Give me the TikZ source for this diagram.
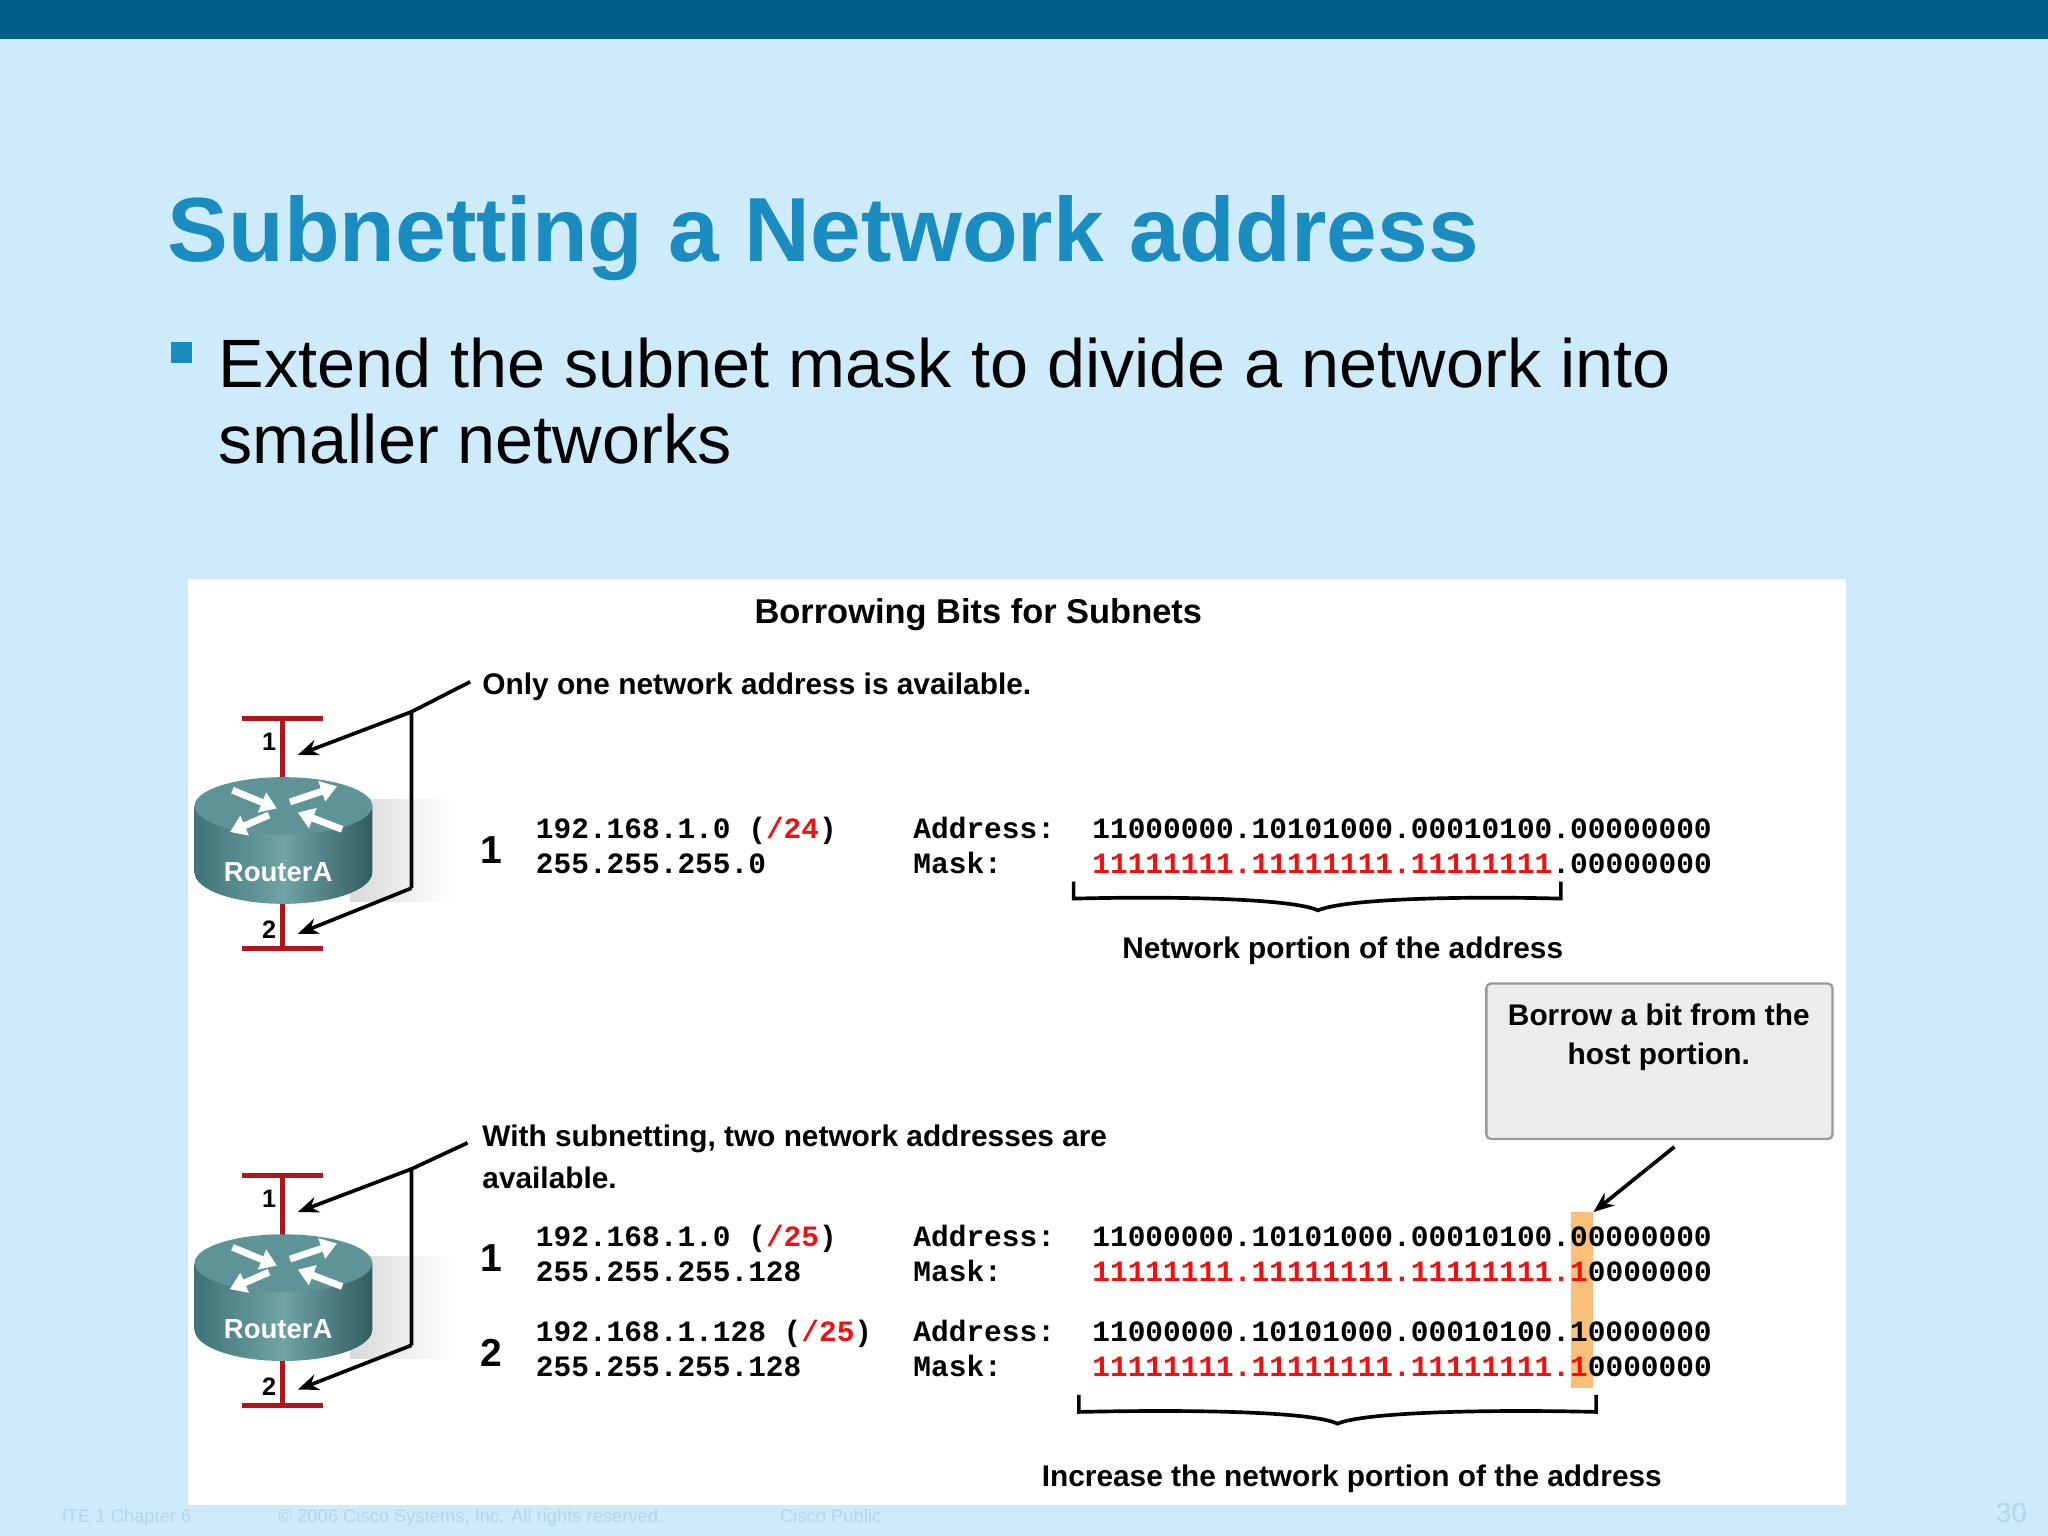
\documentclass[tikz,border=0pt]{standalone}
\usepackage{fontspec}
\setmainfont{Liberation Sans}
\setmonofont{Liberation Mono}
\usetikzlibrary{arrows.meta,calc}
\definecolor{bg}{HTML}{CDEBFB}
\definecolor{bar}{HTML}{005E8A}
\definecolor{ttl}{HTML}{1A8CC0}
\definecolor{rd}{HTML}{EE1111}
\definecolor{rline}{HTML}{B0161C}
\definecolor{hl}{HTML}{F9C07A}
\definecolor{foot}{HTML}{B4D6EA}
\definecolor{rtop}{HTML}{5E9498}
\definecolor{rsideA}{HTML}{3E7478}
\definecolor{rsideB}{HTML}{6FA3A6}
\newcommand{\R}[1]{\textcolor{rd}{#1}}
\begin{document}
\begin{tikzpicture}[x=0.02cm,y=-0.02cm,
  lbl/.style={inner sep=0,font=\fontsize{13}{15}\selectfont\bfseries},
  mono/.style={inner sep=0,anchor=base west,font=\fontsize{12.85}{15}\selectfont\ttfamily\bfseries},
  big/.style={inner sep=0,font=\fontsize{17}{18}\selectfont\bfseries},
  arr/.style={line width=1.6pt,-{Stealth[length=9pt,width=7pt]}},
  ln/.style={line width=1.6pt},
  rl/.style={rline,line width=2.2pt},
  ft/.style={inner sep=0,anchor=base west,text=foot,font=\fontsize{8}{9}\selectfont}]
\useasboundingbox (0,0) rectangle (1568,1176);
\fill[bg] (0,0) rectangle (1568,1176);
\fill[bar] (0,0) rectangle (1568,30);
\node[inner sep=0,anchor=base west,text=ttl,font=\fontsize{39.7}{46}\selectfont\bfseries] (title) at (128,200) {Subnetting a Network address};
\fill[ttl] (131,262) rectangle (147,278);
\node[inner sep=0,anchor=base west,font=\fontsize{29.8}{33}\selectfont] (b1) at (167,297) {Extend the subnet mask to divide a network into};
\node[inner sep=0,anchor=base west,font=\fontsize{29.8}{33}\selectfont] (b2) at (167,355) {smaller networks};
\fill[white] (144,443) rectangle (1413,1152);
\node[lbl,anchor=base,font=\fontsize{15}{17}\selectfont\bfseries] (hdr) at (749,477) {Borrowing Bits for Subnets};
% routers
\foreach \n/\yo in {A/0,B/350}{
  \begin{scope}[yshift=-\yo*0.02cm]
  \shade[left color=gray!30,right color=white] (268,612) -- (345,612) -- (345,690) -- (268,690) -- cycle;
  \draw[rl] (185,550) -- (247,550);
  \draw[rl] (185,726) -- (247,726);
  \draw[rl] (216,550) -- (216,600);
  \draw[rl] (216,685) -- (216,726);
  \node[inner sep=0,font=\fontsize{11}{12}\selectfont\bfseries] (p1\n) at (206,568) {1};
  \node[inner sep=0,font=\fontsize{11}{12}\selectfont\bfseries] (p2\n) at (206,712) {2};
  \shade[left color=rsideA,right color=rsideA!80!black,middle color=rsideB] (149,617) -- (149,668) arc[start angle=180,end angle=0,x radius=68,y radius=24] -- (285,617) -- cycle;
  \fill[rtop] (217,617) ellipse [x radius=68,y radius=22];
  \begin{scope}[white,line width=3pt]
   \draw[-{Triangle[length=7pt,width=9pt]}] (178,605) -- (212,619);
   \draw[-{Triangle[length=7pt,width=9pt]}] (222,614) -- (258,602);
   \draw[-{Triangle[length=7pt,width=9pt]}] (206,624) -- (176,637);
   \draw[-{Triangle[length=7pt,width=9pt]}] (262,635) -- (228,622);
  \end{scope}
  \node[inner sep=0,text=white,font=\fontsize{12}{13}\selectfont\bfseries] (r\n) at (213,668) {RouterA};
  \end{scope}}
\coordinate (jA) at (315,545); \coordinate (kA) at (315,680);
\coordinate (jB) at (315,895); \coordinate (kB) at (315,1030);
\coordinate (sA) at (360,522); \coordinate (sB) at (358,875);
\coordinate (tA1) at (228,578); \coordinate (tA2) at (228,715);
\coordinate (tB1) at (228,928); \coordinate (tB2) at (228,1064);
\draw[ln] (sA) -- (jA) -- (kA);
\draw[arr] (jA) -- (tA1); \draw[arr] (kA) -- (tA2);
\draw[ln] (sB) -- (jB) -- (kB);
\draw[arr] (jB) -- (tB1); \draw[arr] (kB) -- (tB2);
\node[lbl,anchor=base west] (only) at (369,532) {Only one network address is available.};
\node[lbl,anchor=base west] (with1) at (369,878) {With subnetting, two network addresses are};
\node[lbl,anchor=base west] (with2) at (369,910) {available.};
% highlight
\fill[hl] (1203,928) rectangle (1220,1063);
% block 1
\node[big] (n1) at (376,651) {1};
\node[mono] at (410,642) {192.168.1.0 (\R{/24})};
\node[mono] at (410,669) {255.255.255.0};
\node[mono] at (699,642) {Address:};
\node[mono] at (699,669) {Mask:};
\node[mono] at (836,642) {11000000.10101000.00010100.00000000};
\node[mono] at (836,669) {\R{11111111.11111111.11111111}.00000000};
\draw[line width=1.6pt] (822,675) -- (822,688) .. controls (900,686) and (990,688) .. (1009,697) .. controls (1030,688) and (1120,686) .. (1195,688) -- (1195,675);
\node[lbl,anchor=base] (np) at (1028,734) {Network portion of the address};
% block 2
\node[big] (n2) at (376,963) {1};
\node[mono] at (410,954) {192.168.1.0 (\R{/25})};
\node[mono] at (410,981) {255.255.255.128};
\node[mono] at (699,954) {Address:};
\node[mono] at (699,981) {Mask:};
\node[mono] at (836,954) {11000000.10101000.00010100.00000000};
\node[mono] at (836,981) {\R{11111111.11111111.11111111.1}0000000};
\node[big] (n3) at (376,1036) {2};
\node[mono] at (410,1027) {192.168.1.128 (\R{/25})};
\node[mono] at (410,1054) {255.255.255.128};
\node[mono] at (699,1027) {Address:};
\node[mono] at (699,1054) {Mask:};
\node[mono] at (836,1027) {11000000.10101000.00010100.10000000};
\node[mono] at (836,1054) {\R{11111111.11111111.11111111.1}0000000};
\draw[line width=1.6pt] (826,1068) -- (826,1081) .. controls (920,1079) and (1005,1081) .. (1024,1090) .. controls (1045,1081) and (1140,1079) .. (1222,1081) -- (1222,1068);
\node[lbl,anchor=base] (inc) at (1035,1138) {Increase the network portion of the address};
% callout
\draw[fill=gray!15,draw=gray!80,line width=1pt,rounded corners=2pt] (1138,753) rectangle (1403,872);
\node[lbl,anchor=base] (c1) at (1270,785) {Borrow a bit from the};
\node[lbl,anchor=base] (c2) at (1270,815) {host portion.};
\coordinate (cs) at (1282,878); \coordinate (ce) at (1220,928);
\draw[arr] (cs) -- (ce);
% footer
\node[ft] (f1) at (47,1166) {ITE 1 Chapter 6};
\node[ft] (f2) at (213,1166) {© 2006 Cisco Systems, Inc. All rights reserved.};
\node[ft] (f3) at (597,1166) {Cisco Public};
\node[ft,font=\fontsize{12}{13}\selectfont] (f4) at (1528,1166) {30};
\end{tikzpicture}
\end{document}
